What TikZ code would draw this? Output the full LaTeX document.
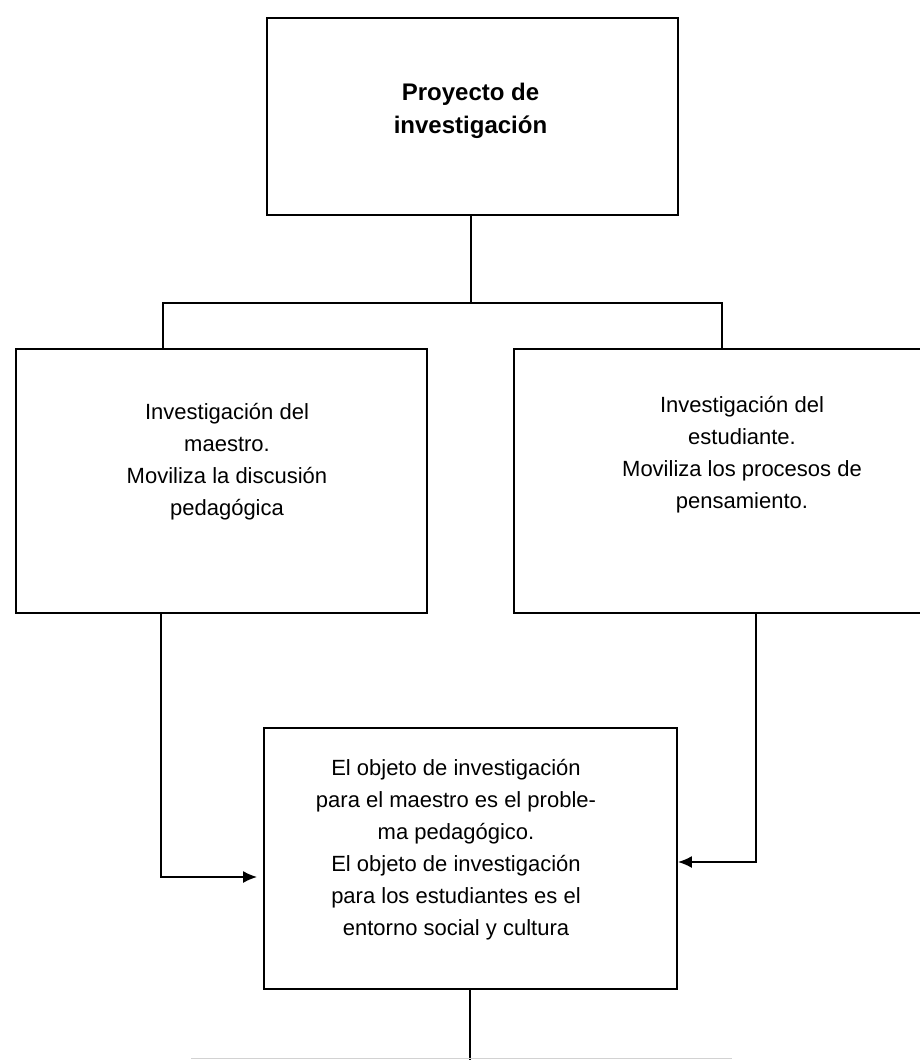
\documentclass[tikz,border=0pt]{standalone}
\usepackage{fontspec}
\setmainfont{Liberation Sans}
\usepackage{tikz}
\usetikzlibrary{arrows.meta,positioning}

\begin{document}
\begin{tikzpicture}[
    x=0.5pt, y=-0.5pt,
    box/.style={draw, line width=0.9pt, minimum width=#1, inner sep=0pt},
    box/.default=205.5pt,
    txt/.style={align=center, inner sep=0pt, font=\fontsize{11}{16}\selectfont},
    linea/.style={line width=0.9pt},
    arr/.style={line width=0.9pt, -{Latex[length=7pt,width=6pt]}}
]
    \useasboundingbox (0,0) rectangle (920,1060);

    % cajas
    \node[box, minimum height=98.5pt] (proyecto) at (472.5,116.5) {};
    \node[box, minimum height=132pt] (maestro) at (221.5,481) {};
    \node[box=228pt, minimum height=132pt] (estudiante) at (742,481) {};
    \node[box=206.5pt, minimum height=130.5pt] (objeto) at (470.5,858.5) {};

    % textos
    \node[txt, font=\fontsize{12}{16.5}\selectfont\bfseries, xshift=-1pt, yshift=3pt] (proyecto-t) at (proyecto.center) {Proyecto de\\investigación};
    \node[txt, xshift=2.75pt, yshift=9.5pt] (maestro-t) at (maestro.center) {Investigación del\\maestro.\\Moviliza la discusión\\pedagógica};
    \node[txt, yshift=13pt] (estudiante-t) at (estudiante.center) {Investigación del\\estudiante.\\Moviliza los procesos de\\pensamiento.};
    \node[txt, xshift=-7.25pt, yshift=4.5pt] (objeto-t) at (objeto.center) {El objeto de investigación\\para el maestro es el proble-\\ma pedagógico.\\El objeto de investigación\\para los estudiantes es el\\entorno social y cultura};

    % uniones
    \coordinate (split) at (471,303);
    \coordinate (jL) at (163,303);
    \coordinate (jR) at (722,303);
    \coordinate (codoL) at (161,877);
    \coordinate (codoR) at (756,862);
    \coordinate (fin) at (470,1060);
    \coordinate (sigL) at (191,1058.5);
    \coordinate (sigR) at (732,1058.5);

    \draw[linea] (proyecto.south -| split) -- (split);
    \draw[linea] (jL |- maestro.north) -- (jL) -- (jR) -- (jR |- estudiante.north);
    \draw[arr, shorten >=3pt] (codoL |- maestro.south) -- (codoL) -- (codoL -| objeto.west);
    \draw[arr] (codoR |- estudiante.south) -- (codoR) -- (codoR -| objeto.east);
    \draw[linea] (objeto.south -| fin) -- (fin);
    \draw[gray!35, line width=0.8pt] (sigL) -- (sigR);
\end{tikzpicture}
\end{document}
